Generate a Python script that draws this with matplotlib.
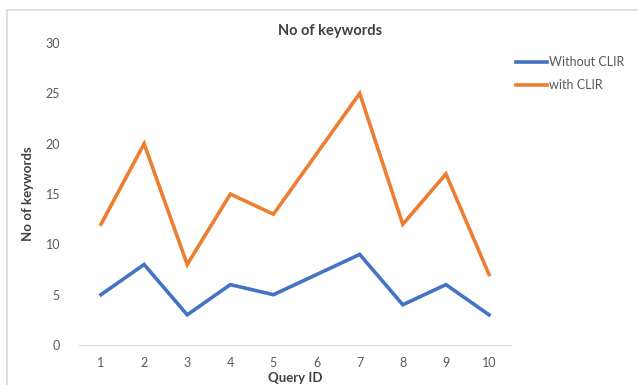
import matplotlib
matplotlib.use("Agg")
import matplotlib.pyplot as plt
from matplotlib.patches import Rectangle

plt.rcParams['font.family'] = ['Lato', 'DejaVu Sans']

# Data
query_ids = [1, 2, 3, 4, 5, 6, 7, 8, 9, 10]
without_clir = [5, 8, 3, 6, 5, 7, 9, 4, 6, 3]
with_clir = [12, 20, 8, 15, 13, 19, 25, 12, 17, 7]
y_ticks = [0, 5, 10, 15, 20, 25, 30]

text_gray = '#595959'
blue = '#4472C4'
orange = '#ED7D31'

fig = plt.figure(figsize=(6.38, 3.85), dpi=100)
# light border around the chart area
fig.patches.append(Rectangle((7 / 638, -0.05), 1.0, 1 - 10 / 385 + 0.05,
                             transform=fig.transFigure, fill=False,
                             edgecolor='#D9D9D9', linewidth=1.2))

ax = fig.add_axes([0.1245, 0.1039, 0.8003 - 0.1245, 0.888 - 0.1039])

ax.plot(query_ids, without_clir, color=blue, linewidth=2.6, label='Without CLIR',
        solid_joinstyle='miter')
ax.plot(query_ids, with_clir, color=orange, linewidth=2.6, label='with CLIR',
        solid_joinstyle='miter')

ax.set_xlim(0.5, 10.5)
ax.set_ylim(0, 30)
ax.set_xticks(query_ids)
ax.set_yticks(y_ticks)
ax.tick_params(axis='both', length=0, colors=text_gray, labelsize=9)
ax.tick_params(axis='x', pad=9)
ax.tick_params(axis='y', pad=14)

for side in ['top', 'right', 'left']:
    ax.spines[side].set_visible(False)
ax.spines['bottom'].set_color('#D9D9D9')

fig.text(330 / 638, 1 - 31 / 385, 'No of keywords', fontsize=10.5, color='#404040',
         fontweight='bold', ha='center', va='center')
ax.set_xlabel('Query ID', fontsize=9.5, color='#404040', fontweight='bold', labelpad=2)
ax.set_ylabel('No of keywords', fontsize=9.5, color='#404040', fontweight='bold', labelpad=8)

leg = fig.legend(*ax.get_legend_handles_labels(), loc='upper left',
                 bbox_to_anchor=(516 / 638, 1 - 56 / 385), frameon=False,
                 borderpad=0, borderaxespad=0,
                 fontsize=9, handlelength=2.5, handletextpad=0.15, labelspacing=0.9)
for t in leg.get_texts():
    t.set_color(text_gray)

fig.savefig('out.png', dpi=100)
